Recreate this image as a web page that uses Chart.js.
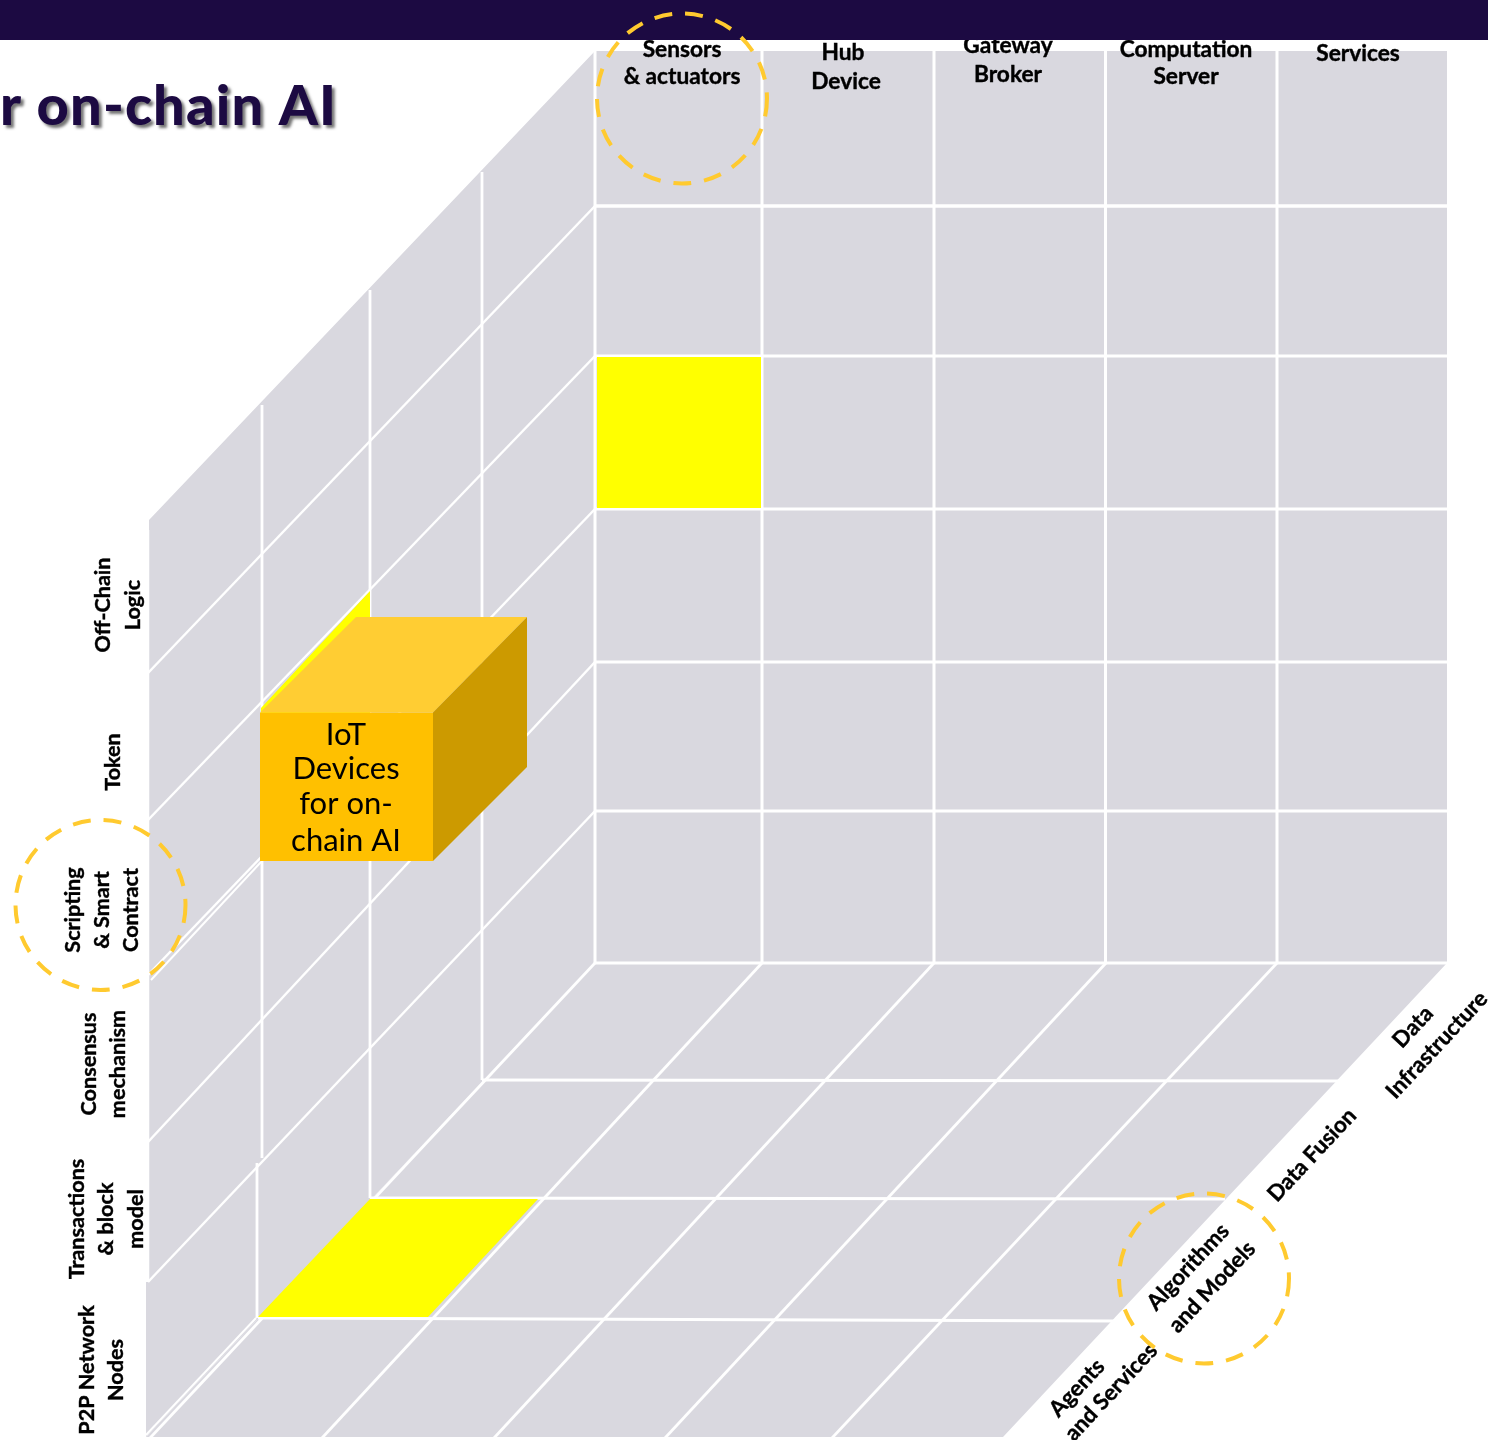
<!DOCTYPE html>
<html>
<head>
<meta charset="utf-8">
<title>IoT Devices for on-chain AI</title>
<script src="https://cdn.jsdelivr.net/npm/chart.js@4"></script>
<style>
  html, body { margin: 0; padding: 0; background: #fff; }
  #box { width: 1488px; height: 1440px; overflow: hidden; }
  canvas { display: block; }
</style>
</head>
<body>
<div id="box"><canvas id="cube-chart" width="1488" height="1440"></canvas></div>
<script>
// categories of the three axes, one entry per line of a label
const deviceLabels = ['Sensors', '& actuators', 'Hub', 'Device', 'Gateway', 'Broker', 'Computation', 'Server', 'Services'];
const devicePos = [[682, 50], [682, 77], [843, 53], [846, 82], [1008, 46], [1008, 75], [1186, 50], [1186, 77], [1358, 54]];

const chainLabels = ['Off-Chain', 'Logic', 'Token', 'Scripting', '& Smart', 'Contract', 'Consensus', 'mechanism', 'Transactions', '& block', 'model', 'P2P Network', 'Nodes'];
const chainPos = [[103, 605], [133, 605], [113, 762], [73, 910], [102, 910], [131, 910], [89, 1064], [118, 1064], [77, 1219], [106, 1219], [136, 1219], [87, 1370], [116, 1370]];

const aiLabels = ['Data', 'Infrastructure', 'Data Fusion', 'Algorithms', 'and Models', 'Agents', 'and Services'];
const aiPos = [[1413, 1027], [1437, 1045], [1312, 1155], [1188, 1267], [1212, 1287], [1077, 1388], [1111, 1392]];

const cubeLabels = ['IoT', 'Devices', 'for on-', 'chain AI'];
const cubeLabelY = [735, 769, 804, 841];

// grid
const backCols = [762, 934, 1105.5, 1277];
const backRows = [206, 356, 509, 662, 811];
const floorRows = [[482, 1080, 1340, 1081], [370, 1198, 1225, 1199], [258, 1318, 1115, 1321]];
const floorDiagonals = [[762, 322], [934, 494], [1106, 665], [1277, 832]];
const wallCols = [[262, 405, 1158], [257, 1163, 1318], [370, 290, 1198], [482, 172, 1080]];
const wallRows = [[148, 673, 595, 206], [148, 820, 595, 356], [148, 975, 595, 509], [148, 1142, 595, 662], [148, 1282, 595, 811]];
const wallDoubles = [[151, 980, 261, 862], [146, 1435, 256, 1318]];

const band = [[0, 0], [1488, 0], [1488, 40], [0, 40]];
const backWall = [[595, 51], [1447, 51], [1447, 963], [595, 963]];
const leftWall = [[149, 520], [595, 51], [595, 963], [146, 1437], [146, 1282], [149, 1282]];
const floor = [[595, 963], [1447, 963], [1003, 1437], [146, 1437]];

const backCell = [[597, 357], [761, 357], [761, 508], [597, 508]];
const wallCell = [[261, 708], [370, 591], [370, 740], [261, 860]];
const floorCell = [[370, 1199], [538, 1199], [428, 1317], [258, 1317]];

const cubeFront = [[260, 712.5], [433, 712.5], [433, 861], [260, 861]];
const cubeTop = [[260, 712.5], [356, 617], [527, 617], [433, 712.5]];
const cubeSide = [[433, 712.5], [527, 617], [527, 767], [433, 861]];

const rings = [[682, 98.5, 85], [100.5, 905, 85], [1204, 1278.5, 85]];

const GREY = '#d9d8df';

function pts(list) {
  return list.map((p) => ({ x: p[0], y: p[1] }));
}
function poly(list, color) {
  return { data: pts(list), showLine: true, fill: 'shape', backgroundColor: color, borderColor: color, borderWidth: 0, pointRadius: 0 };
}
function seg(x1, y1, x2, y2, w) {
  return { data: pts([[x1, y1], [x2, y2]]), showLine: true, fill: false, borderColor: '#fff', borderWidth: w, pointRadius: 0 };
}

// listed back to front, reversed below because chart.js paints the first dataset last
const layers = [poly(band, '#1c0a42'), poly(backWall, GREY), poly(leftWall, GREY), poly(floor, GREY)];
backCols.forEach((x) => layers.push(seg(x, 51, x, 963, 3)));
backRows.forEach((y, i) => layers.push(seg(595, y, 1447, y, i === 0 ? 3.5 : 2.8)));
layers.push(seg(595, 51, 595, 963, 3));
layers.push(seg(595, 963, 1447, 963, 3));
floorRows.forEach((r) => layers.push(seg(r[0], r[1], r[2], r[3], 2.8)));
floorDiagonals.forEach((d) => layers.push(seg(d[0], 963, d[1], 1438, 2.8)));
wallCols.forEach((c) => layers.push(seg(c[0], c[1], c[0], c[2], 2.8)));
wallRows.forEach((r) => layers.push(seg(r[0], r[1], r[2], r[3], 2.5)));
wallDoubles.forEach((r) => layers.push(seg(r[0], r[1], r[2], r[3], 2)));
layers.push(seg(595, 963, 150, 1438, 2.8));
layers.push(seg(148, 530, 148, 1282, 2.5));
layers.push(poly(backCell, '#ffff00'), poly(wallCell, '#ffff00'), poly(floorCell, '#ffff00'));
layers.push(poly(cubeFront, '#ffc000'), poly(cubeTop, '#ffcd33'), poly(cubeSide, '#cc9a00'));

const textPlugin = {
  id: 'textPlugin',
  afterDatasetsDraw(chart) {
    const { ctx, scales } = chart;
    const px = (v) => scales.x.getPixelForValue(v);
    const py = (v) => scales.y.getPixelForValue(v);

    function put(label, p, angle, font, heavy) {
      ctx.save();
      ctx.translate(px(p[0]), py(p[1]));
      ctx.rotate(angle * Math.PI / 180);
      ctx.font = font;
      ctx.fillStyle = '#000';
      ctx.textAlign = 'center';
      ctx.textBaseline = 'middle';
      ctx.fillText(label, 0, 0);
      if (heavy) {
        ctx.strokeStyle = '#000';
        ctx.lineWidth = 0.4;
        ctx.strokeText(label, 0, 0);
      }
      ctx.restore();
    }

    const labelFont = 'bold 22.7px Lato';
    ctx.save();
    // the band hides the top of the first row of labels
    ctx.beginPath();
    ctx.rect(0, py(40), chart.width, chart.height);
    ctx.clip();
    deviceLabels.forEach((t, i) => put(t, devicePos[i], 0, labelFont, true));
    ctx.restore();
    chainLabels.forEach((t, i) => put(t, chainPos[i], -90, 'bold 21.6px Lato', true));
    aiLabels.forEach((t, i) => put(t, aiPos[i], -47, 'bold 22.3px Lato', true));
    cubeLabels.forEach((t, i) => put(t, [346, cubeLabelY[i]], 0, '31px Lato', false));

    // title runs off the left edge in the reference
    ctx.save();
    ctx.font = '900 56px Lato';
    ctx.letterSpacing = '1.1px';
    ctx.fillStyle = '#1c0a42';
    ctx.textBaseline = 'alphabetic';
    ctx.shadowColor = 'rgba(0,0,0,0.55)';
    ctx.shadowOffsetX = 3;
    ctx.shadowOffsetY = 3;
    ctx.shadowBlur = 3;
    ctx.fillText('r on-chain AI', px(0), py(125));
    ctx.restore();

    // dashed highlight rings
    ctx.save();
    ctx.strokeStyle = '#ffca2f';
    ctx.lineWidth = 4;
    ctx.setLineDash([18, 13]);
    rings.forEach((r) => {
      ctx.beginPath();
      ctx.arc(px(r[0]), py(r[1]), r[2], 0, Math.PI * 2);
      ctx.stroke();
    });
    ctx.restore();
  }
};

new Chart(document.getElementById('cube-chart'), {
  type: 'scatter',
  data: { datasets: layers.reverse() },
  options: {
    responsive: false,
    animation: false,
    layout: { padding: 0 },
    plugins: { legend: { display: false }, tooltip: { enabled: false }, title: { display: false } },
    scales: {
      x: { type: 'linear', min: 0, max: 1488, display: false },
      y: { type: 'linear', min: 0, max: 1440, reverse: true, display: false }
    }
  },
  plugins: [textPlugin]
});
</script>
</body>
</html>
